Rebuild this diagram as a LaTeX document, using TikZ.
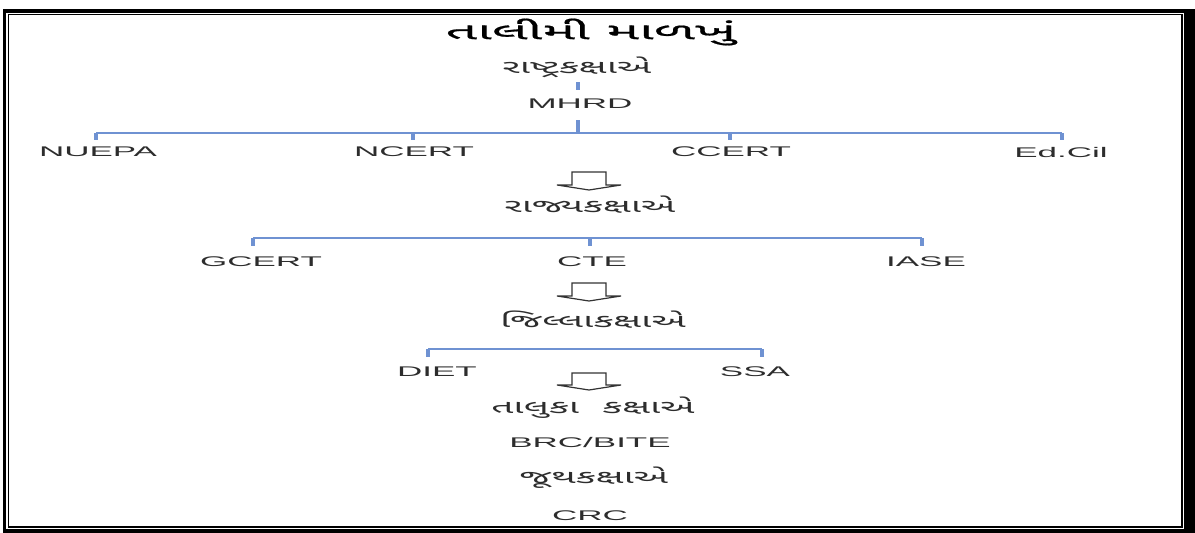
\documentclass[tikz,border=0pt]{standalone}
\usepackage{fontspec}
\newfontfamily\latinfont[FakeStretch=2.5]{Liberation Sans}
\newfontfamily\gujfont[Script=Gujarati,FakeStretch=2.1]{Noto Sans Gujarati UI}
\newfontfamily\gujtitlefont[Script=Gujarati,FakeStretch=2.4,FakeBold=0.8]{Noto Sans Gujarati UI}
\definecolor{busblue}{RGB}{111,146,210}
\definecolor{labelgray}{RGB}{45,45,45}

\begin{document}
\begin{tikzpicture}[x=1pt,y=-1pt,
    lvlnode/.style={inner sep=0pt, text=labelgray, font=\gujfont\fontsize{18.5}{21}\selectfont},
    orgnode/.style={inner sep=0pt, text=labelgray, font=\latinfont\fontsize{14}{16}\selectfont},
    titlenode/.style={inner sep=0pt, text=black, font=\gujtitlefont\fontsize{23}{25}\selectfont},
    bus/.style={draw=busblue, line width=1.8pt},
    stub/.style={draw=busblue, line width=4pt},
    blockarrow/.style={draw=black!80, line width=1.2pt, line join=miter}]

        \useasboundingbox (0,0) rectangle (1195,533);

        % frame
        \draw[line width=3.6pt] (4.5,10.8) rectangle (1188,530.8);
        \draw[line width=1.5pt] (8.5,14.7) rectangle (1182,527);
        \fill (1184,9) rectangle (1195,533);

        \node[titlenode] (title) at (591,32) {તાલીમી માળખું};

        % national level
        \node[lvlnode] (rashtra) at (577,67) {રાષ્ટ્રકક્ષાએ};
        \node[orgnode] (mhrd) at (580,104) {MHRD};
        \node[orgnode] (nuepa) at (98,152) {NUEPA};
        \node[orgnode] (ncert) at (414,152) {NCERT};
        \node[orgnode] (ccert) at (731,152) {CCERT};
        \node[orgnode] (edcil) at (1061,152) {Ed.Cil};

        \draw[stub] (578,82) coordinate (r1) -- ++(0,8);
        \draw[stub] (578,120) coordinate (m1) -- (578,133) coordinate (bus1);
        \draw[bus] (bus1 -| 96,0) -- (bus1 -| 1062,0);
        \foreach \n/\x in {nuepa/96, ncert/413, ccert/730, edcil/1062}
            \draw[stub] (bus1 -| \x,0) -- (\x,140);

        \draw[blockarrow] (589,172) coordinate (a1) ++(-17,0) -- ++(0,13) -- ++(-15,0) -- ++(32,5) -- ++(32,-5) -- ++(-15,0) -- ++(0,-13) -- cycle;

        % state level
        \node[lvlnode] (rajya) at (590,205) {રાજ્યકક્ષાએ};
        \node[orgnode] (gcert) at (261,262) {GCERT};
        \node[orgnode] (cte) at (592,262) {CTE};
        \node[orgnode] (iase) at (926,262) {IASE};

        \coordinate (bus2) at (590,238);
        \draw[bus] (bus2 -| 253,0) -- (bus2 -| 922,0);
        \foreach \n/\x in {gcert/253, cte/590, iase/922}
            \draw[stub] (bus2 -| \x,0) -- (\x,246);

        \draw[blockarrow] (589,283) coordinate (a2) ++(-17,0) -- ++(0,13) -- ++(-15,0) -- ++(32,5) -- ++(32,-5) -- ++(-15,0) -- ++(0,-13) -- cycle;

        % district level
        \node[lvlnode] (jilla) at (593,320) {જિલ્લાકક્ષાએ};
        \node[orgnode] (diet) at (437,372) {DIET};
        \node[orgnode] (ssa) at (755,372) {SSA};

        \coordinate (bus3) at (593,349);
        \draw[bus] (bus3 -| 428,0) -- (bus3 -| 762,0);
        \foreach \n/\x in {diet/428, ssa/762}
            \draw[stub] (bus3 -| \x,0) -- (\x,357);

        \draw[blockarrow] (589,373) coordinate (a3) ++(-17,0) -- ++(0,12) -- ++(-15,0) -- ++(32,5) -- ++(32,-5) -- ++(-15,0) -- ++(0,-12) -- cycle;

        % taluka and cluster level
        \node[lvlnode] (taluka) at (593,408) {તાલુકા\ \ કક્ષાએ};
        \node[orgnode] (brc) at (590,442) {BRC/BITE};
        \node[lvlnode] (juth) at (594,478) {જૂથકક્ષાએ};
        \node[orgnode] (crc) at (590,516) {CRC};

\end{tikzpicture}
\end{document}
